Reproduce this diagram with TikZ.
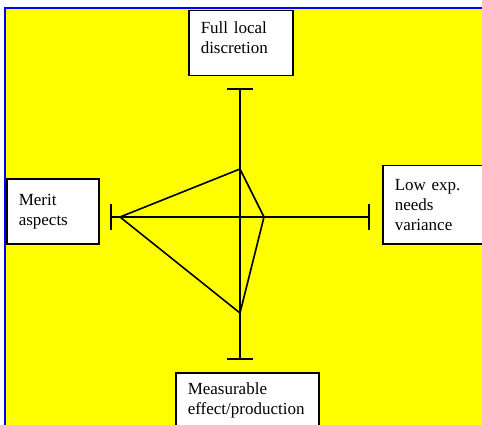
\documentclass[tikz,border=0pt]{standalone}
\usepackage{fontspec}
\setmainfont{Liberation Serif}
\usepackage{xcolor}
\usepackage{tikz}
\usetikzlibrary{arrows.meta}
\definecolor{panel}{RGB}{255,255,0}
\definecolor{frame}{RGB}{0,0,255}
\tikzset{
  dimbox/.style={draw=black,fill=white,line width=1.5pt,anchor=north west,
    align=left,inner xsep=12pt,inner ysep=0pt,
    font=\fontsize{17}{20}\selectfont},
  axisline/.style={line width=1.6pt,{Bar[width=26pt]}-{Bar[width=26pt]}},
  web/.style={line width=1.6pt,line join=miter}
}
\begin{document}
\begin{tikzpicture}[x=1pt,y=-1pt]
    \useasboundingbox (0,0) rectangle (482,425);
    \clip (0,0) rectangle (482,425);
    % Panel
    \filldraw[fill=panel,draw=frame,line width=2pt] (5,8) rectangle (500,440);
    % Dimension boxes
    \node[dimbox,text width=80pt,minimum height=65pt,text depth=31pt]
      (disc) at (188,10) {Full local\\discretion};
    \node[dimbox,text width=68pt,minimum height=65pt] (merit) at (6,178)
      {Merit\\aspects};
    \node[dimbox,text width=86pt,minimum height=78pt] (lowexp) at (382,165)
      {Low exp.\\needs\\variance};
    \node[dimbox,text width=119pt,minimum height=56pt] (effect) at (175,372)
      {Measurable\\effect/production};
    % Axes
    \coordinate (axN) at (240,88);
    \coordinate (axS) at (240,360);
    \coordinate (axW) at (110,217);
    \coordinate (axE) at (370,217);
    \draw[axisline] (axN) -- (axS);
    \draw[axisline] (axW) -- (axE);
    % Profile
    \coordinate (pN) at (240,169);
    \coordinate (pE) at (264,217);
    \coordinate (pS) at (240,313);
    \coordinate (pW) at (120,217);
    \draw[web] (pN) -- (pE) -- (pS) -- (pW) -- cycle;
\end{tikzpicture}
\end{document}
